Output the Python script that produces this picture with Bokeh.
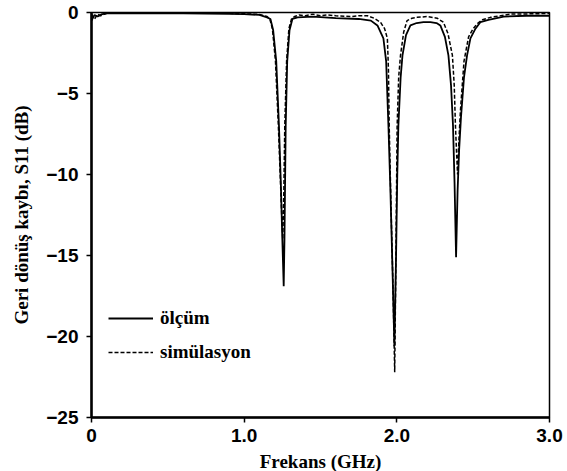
from bokeh.plotting import figure
from bokeh.models import ColumnDataSource, FixedTicker, Range1d, Legend, LegendItem
from bokeh.embed import file_html
from bokeh.resources import INLINE

# ---- data ----
meas_freq = [0.00, 0.02, 0.04, 0.07, 0.10, 0.30, 0.60, 0.90, 1.00, 1.10, 1.15, 1.172,
             1.19, 1.21, 1.228, 1.240, 1.250, 1.259, 1.264, 1.268, 1.272, 1.282, 1.297,
             1.316, 1.35, 1.45, 1.60, 1.75, 1.83, 1.873, 1.912, 1.93, 1.945, 1.958,
             1.972, 1.984, 1.995, 2.003, 2.010, 2.025, 2.037, 2.06, 2.089, 2.13, 2.174,
             2.22, 2.26, 2.285, 2.315, 2.338, 2.355, 2.368, 2.378, 2.388, 2.398, 2.408,
             2.42, 2.44, 2.46, 2.482, 2.515, 2.547, 2.60, 2.70, 2.85, 3.00]
meas_db = [-0.5, -0.15, -0.25, -0.1, -0.05, -0.05, -0.05, -0.08, -0.1, -0.15, -0.3, -0.4,
           -1.1, -3.0, -7.0, -10.5, -14.0, -16.9, -14.0, -10.5, -7.0, -3.0, -1.1,
           -0.4, -0.3, -0.25, -0.35, -0.4, -0.5, -0.8, -1.6, -3.0, -7.0, -11.0,
           -16.0, -20.6, -15.0, -10.0, -7.0, -4.0, -2.65, -1.4, -0.8, -0.65, -0.6,
           -0.6, -0.65, -0.8, -1.5, -2.65, -4.5, -7.0, -10.5, -15.1, -11.0, -8.5,
           -6.5, -4.0, -2.65, -1.6, -1.0, -0.6, -0.45, -0.25, -0.2, -0.2]

sim_freq = [0.00, 0.02, 0.04, 0.06, 0.10, 0.30, 0.60, 0.90, 1.00, 1.10, 1.15, 1.168,
            1.185, 1.205, 1.224, 1.236, 1.246, 1.253, 1.260, 1.266, 1.278, 1.293,
            1.310, 1.33, 1.36, 1.40, 1.45, 1.50, 1.55, 1.60, 1.70, 1.75, 1.807, 1.85,
            1.893, 1.92, 1.938, 1.945, 1.950, 1.962, 1.975, 1.986, 1.993, 2.002, 2.012,
            2.024, 2.045, 2.067, 2.10, 2.133, 2.20, 2.264, 2.305, 2.335, 2.364, 2.376,
            2.384, 2.392, 2.398, 2.406, 2.417, 2.44, 2.47, 2.50, 2.526, 2.56, 2.613,
            2.744, 2.90, 3.00]
sim_db = [-0.1, -0.4, -0.1, -0.2, -0.05, -0.05, -0.05, -0.05, -0.08, -0.12, -0.25, -0.4,
          -1.0, -3.0, -7.0, -10.0, -12.5, -14.0, -11.0, -7.0, -3.0, -1.0,
          -0.4, -0.25, -0.15, -0.2, -0.1, -0.2, -0.15, -0.2, -0.25, -0.2, -0.2, -0.35,
          -0.6, -1.0, -1.6, -3.5, -7.0, -12.0, -17.0, -22.2, -16.0, -7.0, -4.0,
          -2.65, -1.2, -0.5, -0.35, -0.3, -0.25, -0.35, -0.6, -1.3, -2.65, -4.5,
          -7.0, -8.8, -10.0, -8.0, -6.0, -3.0, -1.5, -1.0, -0.7, -0.45, -0.3,
          -0.1, -0.08, -0.05]

x_ticks = [0, 1, 2, 3]
x_tick_labels = ["0", "1.0", "2.0", "3.0"]
y_ticks = [0, -5, -10, -15, -20, -25]
y_tick_labels = ["0", "\u22125", "\u221210", "\u221215", "\u221220", "\u221225"]

series_names = ["ölçüm", "simülasyon"]
x_label = "Frekans (GHz)"
y_label = "Geri dönüş kaybı, S11 (dB)"

# ---- figure ----
p = figure(frame_width=458, frame_height=405, output_backend="svg",
           toolbar_location=None, x_range=Range1d(0, 3.0), y_range=Range1d(-25, 0),
           min_border_left=91, min_border_right=18, min_border_top=12, min_border_bottom=54)
p.background_fill_color = "white"
p.border_fill_color = "white"
p.outline_line_color = "black"
p.outline_line_width = 1.5
p.xgrid.visible = False
p.ygrid.visible = False

src_m = ColumnDataSource(dict(f=meas_freq, db=meas_db))
src_s = ColumnDataSource(dict(f=sim_freq, db=sim_db))
r_m = p.line("f", "db", source=src_m, line_color="black", line_width=1.8)
r_s = p.line("f", "db", source=src_s, line_color="black", line_width=1.5, line_dash="4 2")

for ax in (p.xaxis[0], p.yaxis[0]):
    ax.axis_line_color = "black"
    ax.axis_line_width = 2.5
    ax.major_tick_line_color = "black"
    ax.major_tick_line_width = 1.5
    ax.major_tick_out = 5
    ax.major_tick_in = 0
    ax.minor_tick_line_color = None
    ax.major_label_text_font = "Liberation Sans"
    ax.major_label_text_font_style = "bold"
    ax.major_label_text_font_size = "19px"
    ax.major_label_text_color = "black"
    ax.axis_label_text_font = "Liberation Serif"
    ax.axis_label_text_font_style = "bold"
    ax.axis_label_text_font_size = "19px"
    ax.axis_label_text_color = "black"

p.xaxis[0].ticker = FixedTicker(ticks=x_ticks)
p.xaxis[0].major_label_overrides = {t: l for t, l in zip(x_ticks, x_tick_labels)}
p.xaxis[0].major_label_standoff = 6
p.xaxis[0].axis_label = x_label
p.xaxis[0].axis_label_standoff = 6

p.yaxis[0].ticker = FixedTicker(ticks=y_ticks)
p.yaxis[0].major_label_overrides = {t: l for t, l in zip(y_ticks, y_tick_labels)}
p.yaxis[0].major_label_standoff = 8
p.yaxis[0].axis_label = y_label
p.yaxis[0].axis_label_standoff = 11

legend = Legend(items=[LegendItem(label=series_names[0], renderers=[r_m]),
                       LegendItem(label=series_names[1], renderers=[r_s])],
                location=(17, 54), padding=0, margin=0, spacing=12,
                glyph_width=45, glyph_height=20, label_height=20, label_standoff=7,
                border_line_color=None, background_fill_alpha=0,
                label_text_font="Liberation Serif", label_text_font_style="bold",
                label_text_font_size="19px", label_text_color="black")
p.add_layout(legend)

open("out.html", "w").write(file_html(p, INLINE))
